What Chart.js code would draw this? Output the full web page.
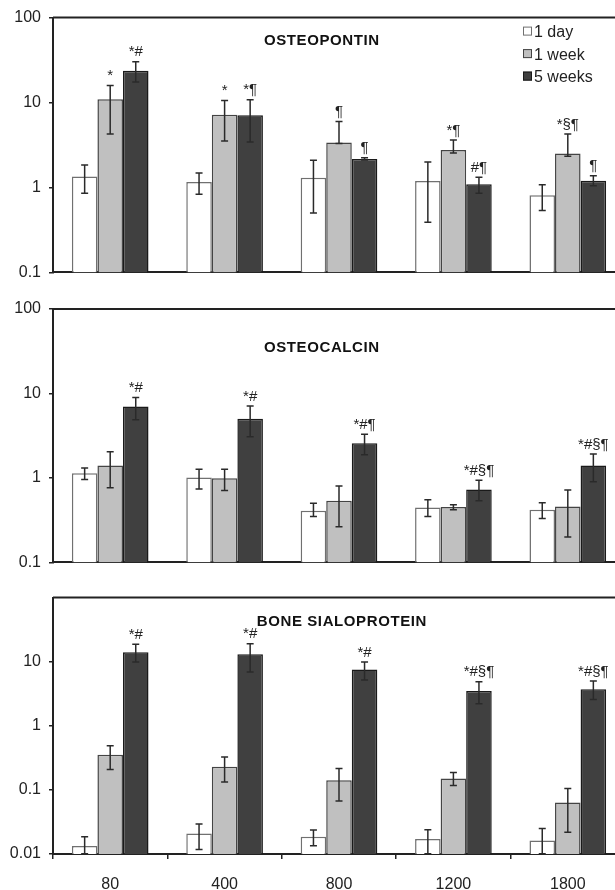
<!DOCTYPE html>
<html>
<head>
<meta charset="UTF-8">
<title>Osteopontin / Osteocalcin / Bone sialoprotein</title>
<script src="https://cdn.jsdelivr.net/npm/chart.js"></script>
<style>
  html, body { margin: 0; padding: 0; background: #fff; overflow: hidden; }
  canvas { position: absolute; left: 0; }
  #p1 { top: 0; }
  #p2 { top: 290px; }
  #p3 { top: 580px; }
</style>
</head>
<body>
<canvas id="p1" width="625" height="290"></canvas>
<canvas id="p2" width="625" height="290"></canvas>
<canvas id="p3" width="625" height="310"></canvas>
<script>
const categories = ['80', '400', '800', '1200', '1800'];
const seriesNames = ['1 day', '1 week', '5 weeks'];
const ticksTop = [0.1, 1, 10, 100];
const ticksBsp = [0.01, 0.1, 1, 10];

// OSTEOPONTIN
const opnDay = [1.35, 1.16, 1.30, 1.19, 0.81];
const opnDayHi = [1.84, 1.48, 2.09, 1.99, 1.08];
const opnDayLo = [0.855, 0.83, 0.50, 0.39, 0.535];
const opnWeek = [10.9, 7.2, 3.38, 2.77, 2.51];
const opnWeekHi = [15.9, 10.6, 6.0, 3.62, 4.27];
const opnWeekLo = [4.27, 3.53, 3.3, 2.54, 2.33];
const opn5w = [23.7, 7.08, 2.17, 1.09, 1.2];
const opn5wHi = [30.2, 10.8, 2.24, 1.32, 1.37];
const opn5wLo = [17.5, 3.44, 2.10, 0.855, 1.045];
const opnWeekMarks = ['*', '*', '¶', '*¶', '*§¶'];
const opn5wMarks = ['*#', '*¶', '¶', '#¶', '¶'];

// OSTEOCALCIN
const ocDay = [1.14, 1.01, 0.41, 0.448, 0.42];
const ocDayHi = [1.31, 1.27, 0.5, 0.55, 0.51];
const ocDayLo = [0.955, 0.74, 0.35, 0.35, 0.33];
const ocWeek = [1.40, 0.99, 0.536, 0.452, 0.46];
const ocWeekHi = [2.04, 1.27, 0.8, 0.48, 0.72];
const ocWeekLo = [0.766, 0.71, 0.264, 0.42, 0.2];
const oc5w = [7.0, 5.02, 2.58, 0.73, 1.40];
const oc5wHi = [8.98, 7.13, 3.28, 0.94, 1.92];
const oc5wLo = [4.9, 3.08, 1.88, 0.536, 0.90];
const oc5wMarks = ['*#', '*#', '*#¶', '*#§¶', '*#§¶'];

// BONE SIALOPROTEIN
const bspDay = [0.0133, 0.0208, 0.0185, 0.0172, 0.0162];
const bspDayHi = [0.0185, 0.0293, 0.0237, 0.024, 0.0251];
const bspDayLo = [0.0101, 0.0118, 0.0134, 0.0101, 0.0101];
const bspWeek = [0.354, 0.229, 0.141, 0.151, 0.0638];
const bspWeekHi = [0.49, 0.326, 0.215, 0.187, 0.105];
const bspWeekLo = [0.208, 0.133, 0.067, 0.117, 0.0218];
const bsp5w = [14.1, 13.1, 7.53, 3.5, 3.71];
const bsp5wHi = [18.7, 19.1, 9.9, 4.87, 4.98];
const bsp5wLo = [9.9, 6.93, 5.16, 2.21, 2.57];
const bsp5wMarks = ['*#', '*#', '*#', '*#§¶', '*#§¶'];

const FONT = '"Liberation Sans", Arial, sans-serif';
const INK = '#222';
const fills = ['#ffffff', '#c0c0c0', '#404040'];
const edges = ['#707070', '#444444', '#1a1a1a'];

const extras = {
  id: 'extras',
  afterDatasetsDraw(chart, args, opts) {
    const ctx = chart.ctx, ys = chart.scales.y, a = chart.chartArea;
    ctx.save();
    // top frame line
    ctx.strokeStyle = INK; ctx.lineWidth = 2;
    ctx.beginPath(); ctx.moveTo(a.left, a.top); ctx.lineTo(a.right, a.top); ctx.stroke();

    chart.data.datasets.forEach((ds, di) => {
      chart.getDatasetMeta(di).data.forEach((bar, i) => {
        const yh = ys.getPixelForValue(ds.errHi[i]);
        const yl = ys.getPixelForValue(ds.errLo[i]);
        ctx.strokeStyle = '#2a2a2a'; ctx.lineWidth = 1.5;
        ctx.beginPath();
        ctx.moveTo(bar.x, yh); ctx.lineTo(bar.x, yl);
        ctx.moveTo(bar.x - 3.5, yh); ctx.lineTo(bar.x + 3.5, yh);
        ctx.moveTo(bar.x - 3.5, yl); ctx.lineTo(bar.x + 3.5, yl);
        ctx.stroke();
        if (ds.marks && ds.marks[i]) {
          ctx.fillStyle = INK;
          ctx.font = '15px ' + FONT;
          ctx.textAlign = 'center';
          ctx.textBaseline = 'bottom';
          ctx.fillText(ds.marks[i], bar.x, yh - 2);
        }
      });
    });

    // panel title
    ctx.fillStyle = '#111';
    ctx.font = 'bold 15px ' + FONT;
    ctx.letterSpacing = '0.6px';
    ctx.textAlign = 'center';
    ctx.textBaseline = 'middle';
    ctx.fillText(opts.title, a.left + a.width * opts.titleX, a.top + opts.titleDy);
    ctx.letterSpacing = '0px';

    // legend
    if (opts.legend) {
      const lx = a.right - 102, ly = a.top + 14;
      ctx.font = '16px ' + FONT;
      ctx.textAlign = 'left';
      chart.data.datasets.forEach((ds, di) => {
        const cy = ly + di * 22.5;
        ctx.fillStyle = ds.backgroundColor;
        ctx.fillRect(lx, cy - 5, 9, 9);
        ctx.strokeStyle = ds.borderColor; ctx.lineWidth = 1;
        ctx.strokeRect(lx + 0.5, cy - 4.5, 8, 8);
        ctx.fillStyle = INK;
        ctx.fillText(ds.label, lx + 11, cy + 1);
      });
    }
    ctx.restore();
  }
};

function makeChart(id, series, hi, lo, marks, yMin, yTicks, opts) {
  const showX = opts.showX;
  new Chart(document.getElementById(id), {
    type: 'bar',
    data: {
      labels: categories,
      datasets: series.map((d, k) => ({
        label: seriesNames[k],
        data: d,
        errHi: hi[k],
        errLo: lo[k],
        marks: marks[k],
        backgroundColor: fills[k],
        borderColor: edges[k],
        borderWidth: 1.5,
        barPercentage: 1.0,
        categoryPercentage: 0.67
      }))
    },
    options: {
      responsive: false,
      animation: false,
      layout: { padding: opts.padding },
      plugins: {
        legend: { display: false },
        tooltip: { enabled: false },
        extras: { title: opts.title, titleX: opts.titleX, titleDy: opts.titleDy, legend: opts.legend }
      },
      scales: {
        x: {
          grid: { display: showX, drawOnChartArea: false, tickLength: 5, color: INK, lineWidth: 1.5 },
          border: { display: true, color: INK, width: 2 },
          ticks: { display: showX, color: INK, padding: 16, font: { family: FONT, size: 16 } },
          afterFit: s => { s.height = showX ? 36 : 0; }
        },
        y: {
          type: 'logarithmic',
          min: yMin,
          max: 100,
          afterBuildTicks: s => { s.ticks = yTicks.map(v => ({ value: v })); },
          afterFit: s => { s.width = 53; },
          grid: { drawOnChartArea: false, tickLength: 4, color: INK, lineWidth: 1.5 },
          border: { display: true, color: INK, width: 2 },
          ticks: {
            color: INK, padding: 8, font: { family: FONT, size: 16 },
            callback: v => String(v)
          }
        }
      }
    },
    plugins: [extras]
  });
}

makeChart('p1',
  [opnDay, opnWeek, opn5w], [opnDayHi, opnWeekHi, opn5wHi], [opnDayLo, opnWeekLo, opn5wLo],
  [null, opnWeekMarks, opn5wMarks], 0.1, ticksTop,
  { title: 'OSTEOPONTIN', titleX: 0.47, titleDy: 23, legend: true, showX: false,
    padding: { top: 14, bottom: 11, left: 0, right: 0 } });

makeChart('p2',
  [ocDay, ocWeek, oc5w], [ocDayHi, ocWeekHi, oc5wHi], [ocDayLo, ocWeekLo, oc5wLo],
  [null, null, oc5wMarks], 0.1, ticksTop,
  { title: 'OSTEOCALCIN', titleX: 0.47, titleDy: 39, legend: false, showX: false,
    padding: { top: 19, bottom: 13, left: 0, right: 0 } });

makeChart('p3',
  [bspDay, bspWeek, bsp5w], [bspDayHi, bspWeekHi, bsp5wHi], [bspDayLo, bspWeekLo, bsp5wLo],
  [null, null, bsp5wMarks], 0.01, ticksBsp,
  { title: 'BONE SIALOPROTEIN', titleX: 0.505, titleDy: 24, legend: false, showX: true,
    padding: { top: 14, bottom: 0, left: 0, right: 0 } });
</script>
</body>
</html>
